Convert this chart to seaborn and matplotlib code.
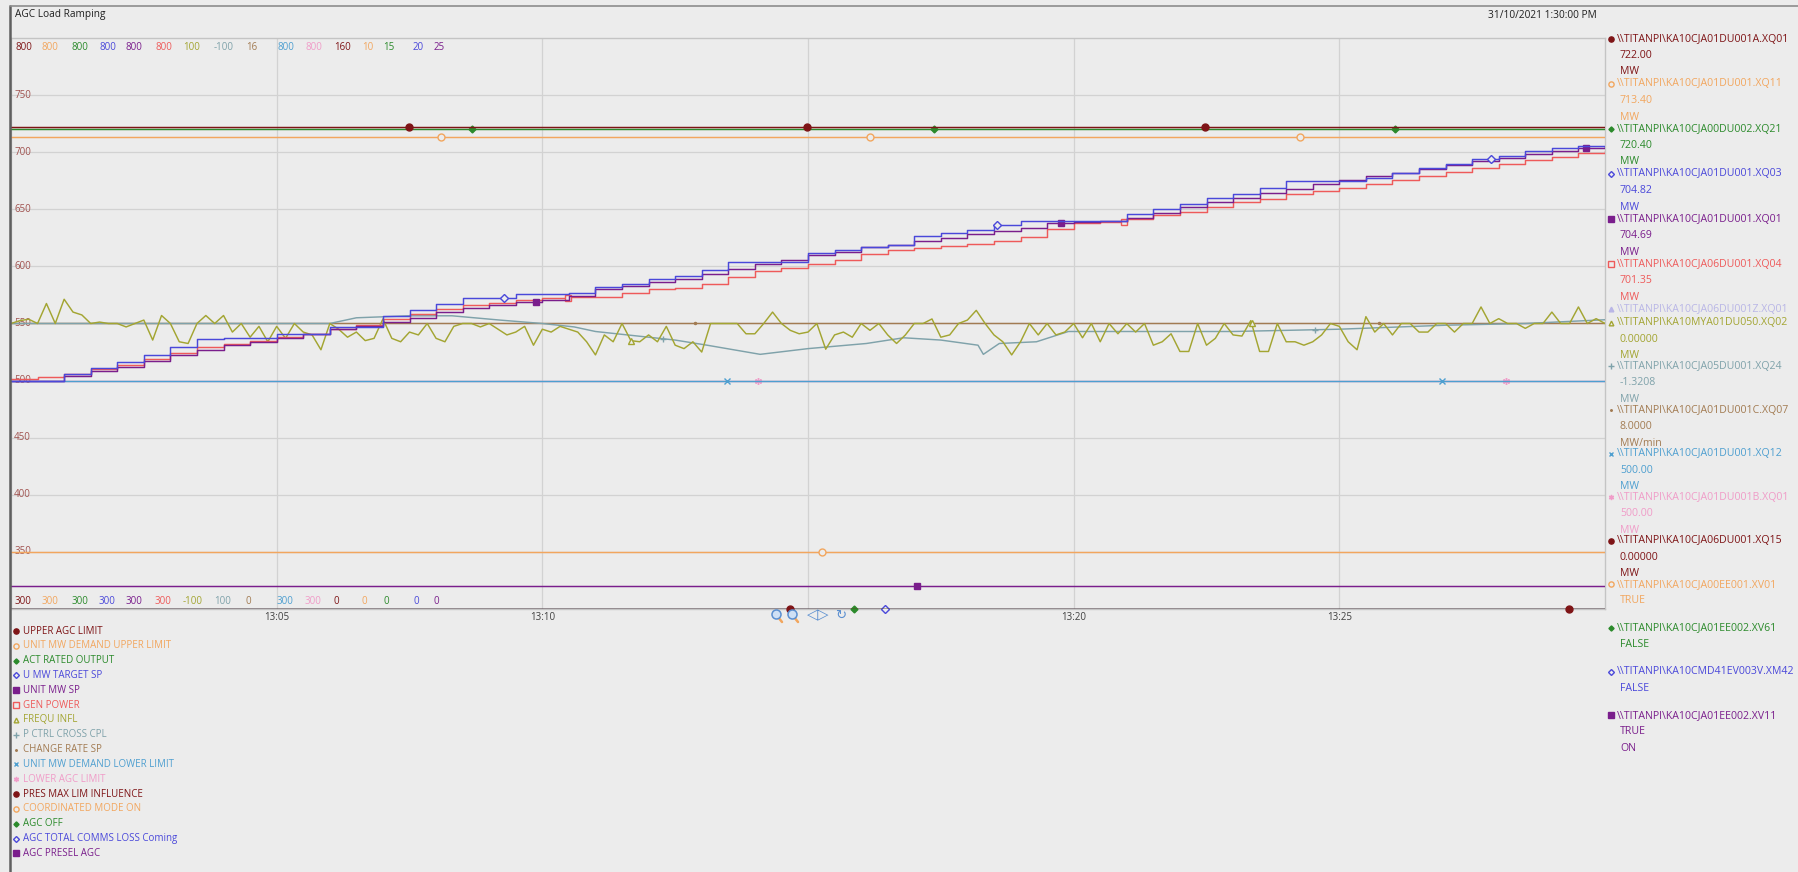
import numpy as np
import matplotlib
matplotlib.use("Agg")
import matplotlib.pyplot as plt
from matplotlib.transforms import blended_transform_factory
import seaborn as sns

W, H = 1798, 872

# ------------------------------------------------------------------ data
trace_names = ["UPPER AGC LIMIT", "UNIT MW DEMAND UPPER LIMIT", "ACT RATED OUTPUT",
               "U MW TARGET SP", "UNIT MW SP", "GEN POWER", "FREQU INFL",
               "P CTRL CROSS CPL", "CHANGE RATE SP", "UNIT MW DEMAND LOWER LIMIT",
               "LOWER AGC LIMIT", "PRES MAX LIM INFLUENCE", "COORDINATED MODE ON",
               "AGC OFF", "AGC TOTAL COMMS LOSS Coming", "AGC PRESEL AGC"]
scale_top = [800, 800, 800, 800, 800, 800, 100, -100, 16, 800, 800, 160, 10, 15, 20, 25]
scale_bottom = [300, 300, 300, 300, 300, 300, -100, 100, 0, 300, 300, 0, 0, 0, 0, 0]

tag_names = [r"\\TITANPI\KA10CJA01DU001A.XQ01", r"\\TITANPI\KA10CJA01DU001.XQ11",
             r"\\TITANPI\KA10CJA00DU002.XQ21", r"\\TITANPI\KA10CJA01DU001.XQ03",
             r"\\TITANPI\KA10CJA01DU001.XQ01", r"\\TITANPI\KA10CJA06DU001.XQ04",
             r"\\TITANPI\KA10CJA06DU001Z.XQ01", r"\\TITANPI\KA10MYA01DU050.XQ02",
             r"\\TITANPI\KA10CJA05DU001.XQ24", r"\\TITANPI\KA10CJA01DU001C.XQ07",
             r"\\TITANPI\KA10CJA01DU001.XQ12", r"\\TITANPI\KA10CJA01DU001B.XQ01",
             r"\\TITANPI\KA10CJA06DU001.XQ15", r"\\TITANPI\KA10CJA00EE001.XV01",
             r"\\TITANPI\KA10CJA01EE002.XV61", r"\\TITANPI\KA10CMD41EV003V.XM42",
             r"\\TITANPI\KA10CJA01EE002.XV11"]
tag_values = ["722.00", "713.40", "720.40", "704.82", "704.69", "701.35", "",
              "0.00000", "-1.3208", "8.0000", "500.00", "500.00", "0.00000",
              "TRUE", "FALSE", "FALSE", "TRUE"]
tag_units = ["MW", "MW", "MW", "MW", "MW", "MW", "", "MW", "MW", "MW/min", "MW", "MW",
             "MW", "", "", "", "ON"]

time_tick_minutes = [5, 10, 15, 20, 25]
# the 13:15 label is hidden behind the navigation buttons in the original
time_tick_labels = ["13:05", "13:10", "", "13:20", "13:25"]
y_tick_values = [350, 400, 450, 500, 550, 600, 650, 700, 750]
title_text = "AGC Load Ramping"
end_time_text = "31/10/2021 1:30:00 PM"

# constant / digital traces (native units)
upper_agc_limit = [722.00, 722.00]
unit_mw_demand_upper = [713.40, 713.40]
act_rated_output = [720.40, 720.40]
change_rate_sp = [8.0, 8.0]
unit_mw_demand_lower = [500.0, 500.0]
lower_agc_limit = [500.0, 500.0]
pres_max_lim_infl = [0.0, 0.0]
coordinated_mode_on = [1, 1]      # TRUE
agc_off = [0, 0]                  # FALSE
agc_comms_loss = [0, 0]           # FALSE
agc_presel = [1, 1]               # TRUE
const_minutes = [0, 30]

# ramping traces, every 30 s from 13:00
ramp_minutes = np.arange(61) * 0.5
u_mw_target_sp = [500, 500, 506, 511, 516, 522, 529, 536, 537.5, 537.5,
                  541, 541, 547, 547, 557, 562, 567, 572, 572, 576,
                  576, 577, 582, 585, 589, 592, 597, 604, 604, 604,
                  611.6, 614, 617, 619, 626.5, 629, 632, 636, 640, 640,
                  640, 640, 646, 650, 655, 660, 663, 669, 675, 675,
                  675, 677, 682, 686.6, 690, 694, 697, 701, 704, 705,
                  704.82]
unit_mw_sp = [500, 500, 504, 508, 512, 517, 522, 527, 531, 534,
              537, 541, 545, 548, 551, 555, 560, 564, 566, 569,
              571, 574, 580, 583, 586, 589, 593, 598, 602, 606,
              609.6, 613, 617, 619, 622, 625, 628, 631, 634, 638,
              639, 640, 642, 647, 652, 656, 660, 664, 668, 672,
              676, 679, 682, 685, 689, 692, 695, 698, 701, 704,
              704.69]
gen_power = [501, 503, 506, 510, 514, 519, 524, 529, 532, 535,
             538, 541, 545, 549, 554, 558, 563, 566, 568, 571,
             572, 573, 573, 577, 580, 581, 585, 591, 596, 599,
             602, 606, 611, 614, 616, 618, 620, 622, 626, 633,
             638, 639, 641.6, 645, 648, 652, 656, 659, 663, 666,
             669, 672, 676, 679, 683, 686, 690, 693, 696, 699,
             701.35]

# frequency influence, every 10 s (MW)
freq_minutes = np.arange(181) / 6.0
frequ_infl = [0, 1, 1.5, 0, 7, 0, 8.5, 4, 3, 0, 0.5, 0,
              0, -1.2, 0, 1.2, -5.8, 2.8, 0, -6.4, -7, 0, 2.8, 0,
              2.8, -3, 0, -4.8, -1, -6.4, -1, -5.2, 0, -3, -4, -9.2,
              0, -2, -4.8, -3, -6, -5.2, 1.6, -5.2, -6.4, -3, -4, 0,
              -5.2, -6.4, -1, 0, 0, -1.2, 0, -2, -4, -3, -1, -7.6,
              -2, -3, -1, -2, -3, -6.4, -11, -4, -6.4, 0, -6, -6.4,
              -4, -6.4, -1, -7.6, -8.8, -6.4, -10, 0, 0, 0, 0, -3.6,
              -3.6, 0, 4, 0, -2.4, -3.6, -3, 0, -9, -4, -3, -4.8,
              0, -2.4, 0, -4, -7, -4, 0, 0, 1.6, -4.8, -4, 0,
              1.2, 4.6, 0, -4, -6.4, -11, -6.4, 0, -4, 0, -4, -3,
              0, -5, 0, -6.4, 0, -3.6, 0, -3, 0, -7.6, -6.4, -3.6,
              -9.8, -9.8, 0, -7.6, -5.2, 0, -4, -4.4, 1, -9.8, -9.8, 0,
              -6.4, -6.4, -7.6, -6.4, -4, 0, -1, -6.4, -9.2, 2.4, -3, 0,
              -4, 0, 0, -3, -3, 0, 0, -3, 0, 0, 5.8, 0,
              1.7, 0, 0, -1.7, 0, 0, 4, 0, 0, 5.8, 0, 1.7,
              0]

# P ctrl cross coupling (MW)
pctrl_minutes = [0, 3, 6, 6.5, 7.5, 8.3, 9.2, 10, 10.6, 11, 12.5, 13.1, 14.1, 15,
                 16.1, 16.8, 17.5, 18.2, 18.3, 18.6, 19.3, 19.9, 21, 23, 25, 27, 28.5, 30]
p_ctrl_cross_cpl = [0, 0, 0, -2, -2.7, -2.7, -1.2, 0, 1.2, 2.8, 5.8, 7.6, 10.8, 8.8,
                    7, 5, 5.8, 7.6, 10.8, 7, 6.4, 2.8, 2.8, 2.8, 2, 0.6, 0, -1.3208]

# ------------------------------------------------------------------ style
dkred, orange, green, blue = "#7E1416", "#F2A65E", "#2B8A2B", "#4A48DA"
purple, red, faded, olive = "#7A1E8C", "#EE5A5A", "#B9B6E6", "#A3A532"
teal, brown, ltblue, pink = "#7FA2AA", "#A27B52", "#4E9FD0", "#F09CC8"
trace_colors = [dkred, orange, green, blue, purple, red, olive, teal, brown,
                ltblue, pink, dkred, orange, green, blue, purple]
tag_colors = trace_colors[:6] + [faded] + trace_colors[6:]
# marker, filled, size  (17 tag order)
tag_markers = [("o", True, 5), ("o", False, 5), ("D", True, 3.5), ("D", False, 4),
               ("s", True, 5), ("s", False, 5), ("^", True, 4.5), ("^", False, 4.5),
               ("+", True, 5), (".", True, 3), ("x", True, 4.5), ((6, 2, 0), True, 5),
               ("o", True, 5), ("o", False, 5), ("D", True, 3.5), ("D", False, 4),
               ("s", True, 5)]
BG = "#ECECEC"

sns.set_style("white")
plt.rcParams["font.family"] = ["Open Sans", "DejaVu Sans"]

fig = plt.figure(figsize=(W / 100, H / 100), dpi=100, facecolor=BG)
L, R, T, B = 11, 1605, 38, 609
ax = fig.add_axes([L / W, 1 - B / H, (R - L) / W, (B - T) / H], facecolor=BG)
ax.set_xlim(0, 30)
ax.set_ylim(300, 800)


def to_disp(vals, k):
    v = np.asarray(vals, dtype=float)
    return 300 + (v - scale_bottom[k]) / (scale_top[k] - scale_bottom[k]) * 500


series = [
    (const_minutes, upper_agc_limit, "lin"),
    (const_minutes, unit_mw_demand_upper, "lin"),
    (const_minutes, act_rated_output, "lin"),
    (ramp_minutes, u_mw_target_sp, "step"),
    (ramp_minutes, unit_mw_sp, "step"),
    (ramp_minutes, gen_power, "step"),
    (freq_minutes, frequ_infl, "lin"),
    (pctrl_minutes, p_ctrl_cross_cpl, "lin"),
    (const_minutes, change_rate_sp, "lin"),
    (const_minutes, unit_mw_demand_lower, "lin"),
    (const_minutes, lower_agc_limit, "lin"),
    (const_minutes, pres_max_lim_infl, "lin"),
    (const_minutes, coordinated_mode_on, "lin"),
    (const_minutes, agc_off, "lin"),
    (const_minutes, agc_comms_loss, "lin"),
    (const_minutes, agc_presel, "lin"),
]

for k, (tt, vv, kind) in enumerate(series):
    col = trace_colors[k]
    yd = to_disp(vv, k)
    z = 3 + (16 - k) * 0.1
    kw = dict(drawstyle="steps-post") if kind == "step" else {}
    sns.lineplot(x=np.asarray(tt, float), y=yd, ax=ax, color=col, lw=1.05,
                 estimator=None, sort=False, legend=False, zorder=z, **kw)
    # trace identification markers
    m = k if k < 6 else k + 1
    spacing = 7.489 + 0.5978 * m
    mt = spacing * np.arange(1, 6)
    mt = mt[mt < 29.9]
    if kind == "step":
        idx = np.clip(np.searchsorted(tt, mt, side="right") - 1, 0, len(yd) - 1)
        my = yd[idx]
    else:
        my = np.interp(mt, np.asarray(tt, float), yd)
    mk, filled, ms = tag_markers[m]
    ax.plot(mt, my, ls="none", marker=mk, ms=ms, color=col,
            mfc=col if filled else BG, mec=col, mew=1.0, zorder=z + 0.05,
            clip_on=False)

ax.set_xticks(time_tick_minutes)
ax.set_xticklabels(time_tick_labels, fontsize=7, color="#404040")
ax.set_yticks(y_tick_values)
ax.tick_params(axis="x", length=0, pad=2)
ax.tick_params(axis="y", length=0, labelleft=False)
ax.grid(True, color="#D2D2D2", lw=0.9)
ax.set_axisbelow(True)
ax.set_xlabel("")
ax.set_ylabel("")
for s in ax.spines.values():
    s.set_color("#C4C4C4")
    s.set_linewidth(1.0)

tr = blended_transform_factory(ax.transAxes, ax.transData)
for v in y_tick_values:
    ax.text(0.002, v, str(v), transform=tr, ha="left", va="center",
            fontsize=7, color="#A0524F", zorder=1)

# ------------------------------------------------------------------ overlay
ov = fig.add_axes([0, 0, 1, 1], zorder=10)
ov.set_xlim(0, W)
ov.set_ylim(H, 0)
ov.axis("off")
ov.patch.set_visible(False)

# window frame
ov.plot([10, 10], [6, H], color="#5F5F5F", lw=1.8)
ov.plot([10, W], [6, 6], color="#8C8C8C", lw=1.2)

ov.text(15, 15, title_text, fontsize=7.3, color="#202020", va="center", ha="left")
ov.text(1597, 15, end_time_text, fontsize=7.3, color="#202020", va="center", ha="right")

# scale labels
scale_x = [15, 42, 72, 99, 126, 155, 183, 214, 246, 277, 305, 334, 362, 383, 413, 434]
for k in range(16):
    ov.text(scale_x[k], 48, f"{scale_top[k]:g}", fontsize=7, color=trace_colors[k],
            va="center", ha="left")
    ov.text(scale_x[k], 601, f"{scale_bottom[k]:g}", fontsize=7, color=trace_colors[k],
            va="center", ha="left")

# navigation buttons
for x0 in (776, 792):
    ov.plot([x0 + 2, x0 + 6], [617, 622], color=orange, lw=1.8, solid_capstyle="round")
    ov.plot([x0], [614], marker="o", ms=6.5, mfc="#CFE0F5", mec="#5B8FD0", mew=1.1)
ov.text(818, 615, "◁▷", fontsize=10.5, color="#5B8FD0", va="center", ha="center",
        family=["DejaVu Sans"])
ov.text(841, 615, "↻", fontsize=9.5, color="#5B8FD0", va="center", ha="center",
        family=["DejaVu Sans"])

# bottom-left legend
for i, name in enumerate(trace_names):
    y = 631 + i * 14.83
    m = i if i < 6 else i + 1
    mk, filled, ms = tag_markers[m]
    c = trace_colors[i]
    ov.plot([16], [y], ls="none", marker=mk, ms=ms * 0.75, color=c,
            mfc=c if filled else BG, mec=c, mew=1.0)
    ov.text(23, y, name, fontsize=7, color=c, va="center", ha="left")

# right legend
y = 39
for j, tag in enumerate(tag_names):
    c = tag_colors[j]
    mk, filled, ms = tag_markers[j]
    ov.plot([1611], [y], ls="none", marker=mk, ms=ms * 0.75, color=c,
            mfc=c if filled else BG, mec=c, mew=1.0)
    ov.text(1617, y, tag, fontsize=7.6, color=c, va="center", ha="left")
    lines = [s for s in (tag_values[j], tag_units[j]) if s]
    for n, s in enumerate(lines):
        ov.text(1620, y + 16.5 * (n + 1), s, fontsize=7.6, color=c, va="center", ha="left")
    if not lines:
        y += 13.8
    elif j < 6:
        y += 45.0
    else:
        y += 43.6

fig.savefig("out.png", dpi=100, facecolor=BG)
